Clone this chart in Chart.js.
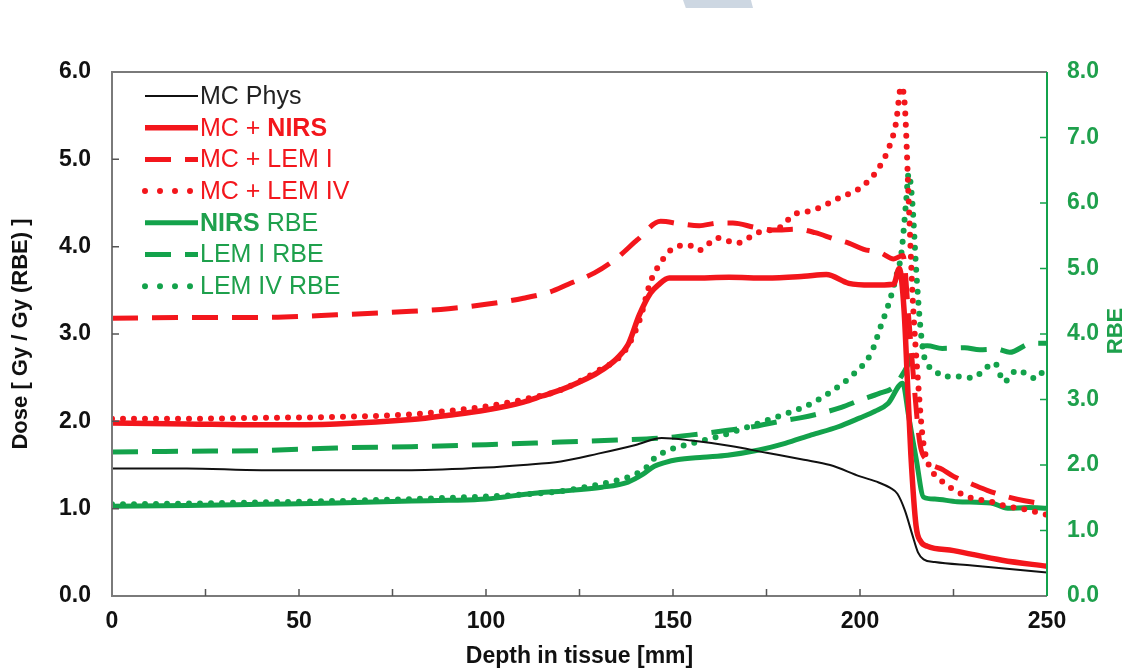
<!DOCTYPE html>
<html>
<head>
<meta charset="utf-8">
<title>Dose and RBE vs depth</title>
<script src="https://cdn.jsdelivr.net/npm/chart.js@4.4.1/dist/chart.umd.min.js"></script>
<style>
  html, body { margin: 0; padding: 0; background: #fff; }
  #wrap { position: relative; width: 1126px; height: 671px; }
  #mark { position: absolute; left: 683px; top: 0; width: 70px; height: 8px; background: #cdd7e2;
          clip-path: polygon(0 0, 97% 0, 100% 100%, 4% 100%); }
</style>
</head>
<body>
<div id="wrap"><canvas id="myChart"></canvas><div id="mark"></div></div>
<script>
// depth in tissue [mm] and values
const physDepth = [0, 20, 40, 60, 80, 100, 110, 120, 130, 140, 147, 155, 165, 175, 185, 192, 200, 205, 208, 210, 212, 214, 215.5, 217, 220, 230, 240, 250];
const physDose  = [1.46, 1.46, 1.44, 1.44, 1.44, 1.47, 1.50, 1.54, 1.63, 1.73, 1.81, 1.78, 1.72, 1.64, 1.56, 1.50, 1.37, 1.30, 1.24, 1.17, 0.98, 0.70, 0.50, 0.42, 0.39, 0.35, 0.31, 0.27];

const nirsDepth = [0, 20, 40, 60, 80, 90, 100, 110, 115, 120, 125, 130, 135, 138, 141, 144, 146, 149, 155, 165, 175, 185, 191, 197, 203, 209, 210.5, 211.8, 212.7, 213.6, 215, 216.3, 218, 225, 238, 250];
const nirsDose  = [1.98, 1.97, 1.96, 1.97, 2.02, 2.07, 2.13, 2.22, 2.29, 2.36, 2.45, 2.56, 2.72, 2.88, 3.22, 3.47, 3.56, 3.64, 3.64, 3.65, 3.64, 3.66, 3.68, 3.58, 3.56, 3.57, 3.75, 3.26, 2.44, 1.62, 0.80, 0.62, 0.57, 0.52, 0.41, 0.34];

const lem1Depth = [0, 20, 40, 60, 80, 90, 100, 110, 117, 122, 129, 135, 140.5, 146.7, 152, 157, 162, 166, 172, 177, 183, 188, 193, 197, 201, 205.5, 209, 211.5, 213, 214.5, 216, 218, 222, 225, 230, 234, 240, 244, 250];
const lem1Dose  = [3.18, 3.19, 3.19, 3.22, 3.26, 3.29, 3.34, 3.41, 3.48, 3.57, 3.70, 3.87, 4.08, 4.29, 4.26, 4.24, 4.27, 4.27, 4.22, 4.19, 4.20, 4.16, 4.09, 4.04, 3.97, 3.93, 3.86, 3.90, 3.20, 2.40, 1.75, 1.55, 1.45, 1.37, 1.28, 1.21, 1.13, 1.09, 1.05];

const lem4Depth = [0, 20, 40, 60, 80, 90, 100, 110, 120, 130, 137, 141, 144, 146, 149.4, 154, 157, 162, 167, 172.6, 179, 182, 187.7, 195, 200, 204.7, 207.8, 209.6, 211, 212, 213, 214.1, 215.5, 216.8, 218.4, 221, 225, 230, 234, 240, 243, 250];
const lem4Dose  = [2.03, 2.03, 2.04, 2.05, 2.08, 2.12, 2.17, 2.25, 2.36, 2.58, 2.80, 3.15, 3.60, 3.77, 3.96, 4.02, 3.96, 4.10, 4.04, 4.16, 4.23, 4.36, 4.42, 4.57, 4.67, 4.88, 5.14, 5.41, 5.83, 5.60, 4.55, 3.40, 2.47, 1.80, 1.50, 1.35, 1.22, 1.12, 1.09, 1.02, 1.00, 0.93];

const rbeNirsDepth = [0, 20, 40, 60, 80, 90, 100, 113, 120, 131, 138, 142, 145, 148, 151, 158, 164.6, 173, 180, 187, 194, 200, 204, 207.5, 211.4, 213, 215, 217, 220, 226, 235, 239.5, 245, 250];
const rbeNirs      = [1.37, 1.38, 1.40, 1.42, 1.45, 1.46, 1.48, 1.57, 1.60, 1.66, 1.74, 1.86, 1.98, 2.04, 2.08, 2.12, 2.15, 2.23, 2.33, 2.46, 2.58, 2.72, 2.82, 2.94, 3.25, 2.75, 2.10, 1.51, 1.48, 1.44, 1.42, 1.34, 1.35, 1.34];

const rbeLem1Depth = [0, 20, 40, 60, 80, 100, 120, 135, 146.7, 155, 164.6, 172, 178, 184, 189.5, 195, 200, 205, 209, 211, 212.8, 215, 218, 222, 228, 232, 236.6, 240, 246, 250];
const rbeLem1      = [2.20, 2.21, 2.22, 2.26, 2.28, 2.31, 2.35, 2.38, 2.41, 2.46, 2.53, 2.59, 2.66, 2.72, 2.79, 2.88, 2.99, 3.09, 3.19, 3.35, 3.53, 3.80, 3.82, 3.78, 3.79, 3.76, 3.77, 3.72, 3.86, 3.86];

const rbeLem4Depth = [0, 20, 40, 60, 80, 100, 110, 120, 130, 136, 140, 143, 145, 149, 153, 157, 163, 170, 175, 180.6, 187, 193, 198.5, 203, 205.5, 208, 210, 211, 212.3, 213, 214, 215, 216, 217, 218.5, 220, 222, 226, 230.5, 233, 236, 238.5, 242, 245, 247, 250];
const rbeLem4      = [1.40, 1.41, 1.43, 1.45, 1.48, 1.52, 1.55, 1.60, 1.70, 1.78, 1.86, 1.97, 2.10, 2.23, 2.30, 2.36, 2.45, 2.58, 2.68, 2.79, 2.94, 3.15, 3.40, 3.71, 4.11, 4.52, 4.95, 5.20, 6.00, 6.45, 6.00, 5.00, 4.20, 3.70, 3.50, 3.45, 3.35, 3.35, 3.33, 3.45, 3.56, 3.27, 3.45, 3.37, 3.32, 3.53];

// legend text pieces, [text, bold]
const legendText = [
  [['MC Phys', false]],
  [['MC + ', false], ['NIRS', true]],
  [['MC + LEM I', false]],
  [['MC + LEM IV', false]],
  [['NIRS', true], [' RBE', false]],
  [['LEM I RBE', false]],
  [['LEM IV RBE', false]]
];

const RED = '#f3161c';
const GREEN = '#13a24b';
const GREEN_TXT = '#1ea04c';
const FONT = '"Liberation Sans", Arial, sans-serif';
Chart.defaults.font.family = FONT;

function pts(xs, ys) {
  return xs.map((x, i) => ({x: x, y: ys[i]}));
}

const SOLID = [];
const DASH = [26, 14];
const DOT = [0, 11];

const datasets = [
  {label: 'MC Phys', data: pts(physDepth, physDose), borderColor: '#111', borderWidth: 2, borderDash: SOLID, yAxisID: 'y', txt: '#222'},
  {label: 'MC + NIRS', data: pts(nirsDepth, nirsDose), borderColor: RED, borderWidth: 5.5, borderDash: SOLID, yAxisID: 'y', txt: RED},
  {label: 'MC + LEM I', data: pts(lem1Depth, lem1Dose), borderColor: RED, borderWidth: 5, borderDash: DASH, yAxisID: 'y', txt: RED},
  {label: 'MC + LEM IV', data: pts(lem4Depth, lem4Dose), borderColor: RED, borderWidth: 6, borderDash: DOT, borderCapStyle: 'round', yAxisID: 'y', txt: RED},
  {label: 'NIRS RBE', data: pts(rbeNirsDepth, rbeNirs), borderColor: GREEN, borderWidth: 5, borderDash: SOLID, yAxisID: 'y2', txt: GREEN_TXT},
  {label: 'LEM I RBE', data: pts(rbeLem1Depth, rbeLem1), borderColor: GREEN, borderWidth: 5, borderDash: DASH, yAxisID: 'y2', txt: GREEN_TXT},
  {label: 'LEM IV RBE', data: pts(rbeLem4Depth, rbeLem4), borderColor: GREEN, borderWidth: 6, borderDash: DOT, borderCapStyle: 'round', yAxisID: 'y2', txt: GREEN_TXT}
];

// box, inward ticks, RBE title
const framePlugin = {
  id: 'frame',
  afterDatasetsDraw(chart) {
    const {ctx, chartArea: a, scales} = chart;
    ctx.save();
    ctx.lineWidth = 2;
    ctx.strokeStyle = '#7a7a7a';
    ctx.beginPath();
    ctx.moveTo(a.right, a.top);
    ctx.lineTo(a.left, a.top);
    ctx.lineTo(a.left, a.bottom);
    ctx.lineTo(a.right, a.bottom);
    ctx.stroke();
    ctx.strokeStyle = GREEN;
    ctx.beginPath();
    ctx.moveTo(a.right, a.top);
    ctx.lineTo(a.right, a.bottom);
    ctx.stroke();

    ctx.lineWidth = 1.5;
    ctx.strokeStyle = '#555';
    ctx.beginPath();
    for (let v = 25; v < 250; v += 25) {
      const px = scales.x.getPixelForValue(v);
      ctx.moveTo(px, a.bottom);
      ctx.lineTo(px, a.bottom - 7);
    }
    for (let v = 1; v < 6; v++) {
      const py = scales.y.getPixelForValue(v);
      ctx.moveTo(a.left, py);
      ctx.lineTo(a.left + 7, py);
    }
    ctx.stroke();
    ctx.strokeStyle = GREEN;
    ctx.beginPath();
    for (let v = 1; v < 8; v++) {
      const py = scales.y2.getPixelForValue(v);
      ctx.moveTo(a.right, py);
      ctx.lineTo(a.right - 7, py);
    }
    ctx.stroke();

    ctx.translate(1116, (a.top + a.bottom) / 2 - 3);
    ctx.rotate(-Math.PI / 2);
    ctx.fillStyle = GREEN_TXT;
    ctx.font = 'bold 22px ' + FONT;
    ctx.textAlign = 'center';
    ctx.textBaseline = 'middle';
    ctx.fillText('RBE', 0, 0);
    ctx.restore();
  }
};

const legendPlugin = {
  id: 'insideLegend',
  afterDraw(chart) {
    const ctx = chart.ctx;
    const a = chart.chartArea;
    chart.data.datasets.forEach((ds, i) => {
      const y = a.top + 24 + i * 31.7;
      const x0 = a.left + 33, x1 = a.left + 86;
      ctx.save();
      ctx.strokeStyle = ds.borderColor;
      ctx.lineWidth = ds.borderWidth;
      ctx.lineCap = ds.borderCapStyle || 'butt';
      ctx.setLineDash(ds.borderDash === DOT ? [0, 15] : ds.borderDash);
      ctx.beginPath();
      ctx.moveTo(x0, y);
      ctx.lineTo(x1, y);
      ctx.stroke();
      ctx.setLineDash([]);
      ctx.fillStyle = ds.txt;
      ctx.textBaseline = 'middle';
      let x = x1 + 2;
      legendText[i].forEach(([t, b]) => {
        ctx.font = (b ? 'bold ' : '') + '25px ' + FONT;
        ctx.fillText(t, x, y + 1);
        x += ctx.measureText(t).width;
      });
      ctx.restore();
    });
  }
};

const tickFont = {size: 23, weight: 'bold'};

new Chart(document.getElementById('myChart'), {
  type: 'line',
  data: {datasets: datasets},
  options: {
    responsive: true,
    maintainAspectRatio: false,
    animation: false,
    layout: {padding: {top: 72, left: 0, right: 0, bottom: 0}},
    elements: {point: {radius: 0}, line: {cubicInterpolationMode: 'monotone'}},
    plugins: {legend: {display: false}, tooltip: {enabled: false}},
    scales: {
      x: {
        type: 'linear', min: 0, max: 250,
        grid: {display: false, drawTicks: false},
        border: {display: false},
        ticks: {stepSize: 50, padding: 12, color: '#111', font: tickFont, maxRotation: 0},
        title: {display: true, text: 'Depth in tissue [mm]', color: '#111', font: {size: 23, weight: 'bold'}, padding: {top: 0, bottom: 1}},
        afterFit(s) { s.height = 75; }
      },
      y: {
        position: 'left', min: 0, max: 6,
        grid: {display: false, drawTicks: false},
        border: {display: false},
        ticks: {stepSize: 1, padding: 21, color: '#111', font: tickFont, callback: v => v.toFixed(1)},
        title: {display: true, text: 'Dose [ Gy / Gy (RBE) ]', color: '#111', font: {size: 22, weight: 'bold'}, padding: {top: 8, bottom: 0}},
        afterFit(s) { s.width = 112; }
      },
      y2: {
        position: 'right', min: 0, max: 8,
        grid: {display: false, drawTicks: false},
        border: {display: false},
        ticks: {stepSize: 1, padding: 20, color: GREEN_TXT, font: tickFont, callback: v => v.toFixed(1)},
        afterFit(s) { s.width = 79; }
      }
    }
  },
  plugins: [framePlugin, legendPlugin]
});
</script>
</body>
</html>
